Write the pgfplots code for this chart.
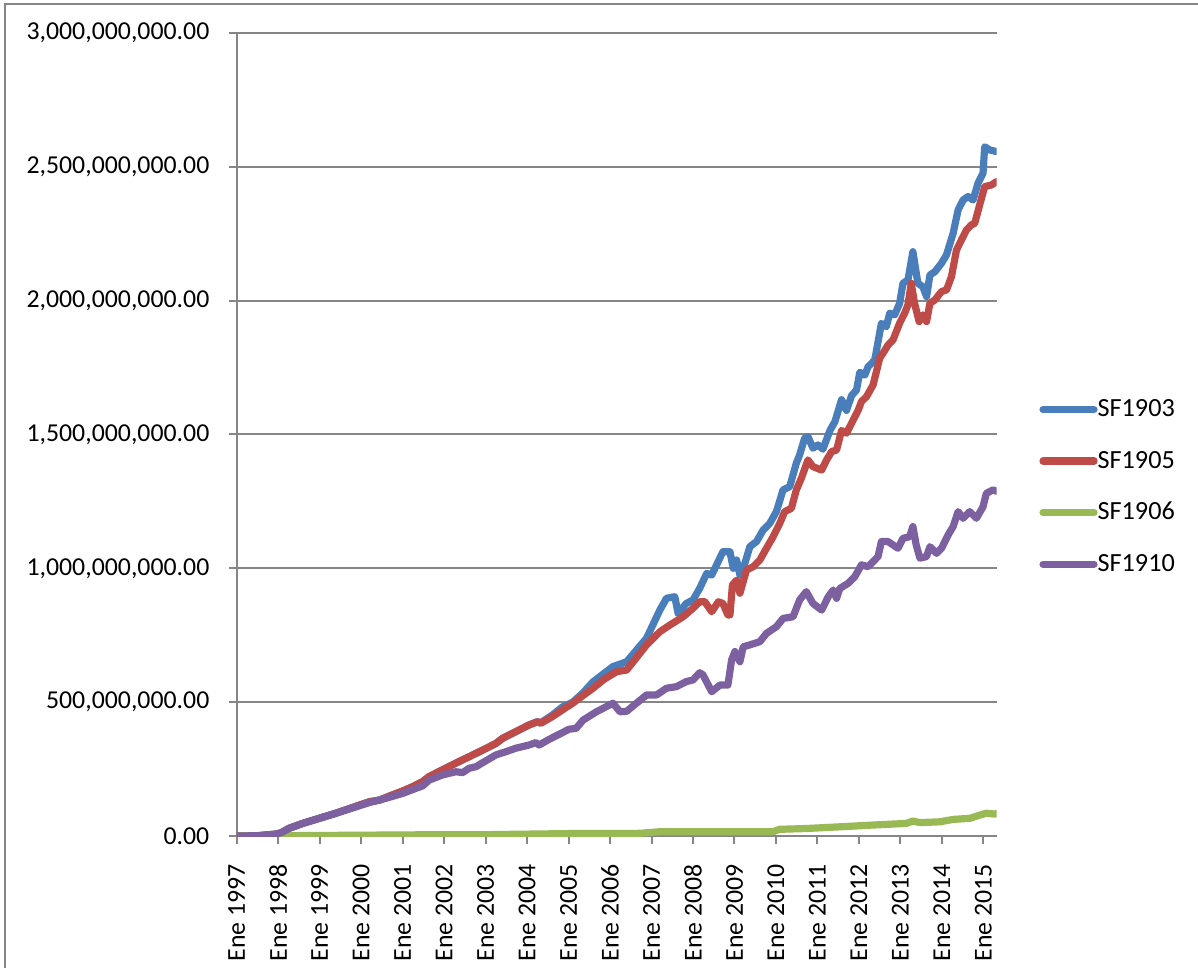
\documentclass[border=0pt]{standalone}
\usepackage{fontspec}
\setmainfont{Carlito}
\usepackage{pgfplots}
\pgfplotsset{compat=1.18}

\definecolor{sfblue}{HTML}{4A7EBB}
\definecolor{sfred}{HTML}{BE4B48}
\definecolor{sfgreen}{HTML}{98B954}
\definecolor{sfpurple}{HTML}{7D60A0}
\definecolor{axgray}{HTML}{868686}

\begin{document}
\begin{tikzpicture}
% page: 1198 x 968 units of 0.5pt, axis box lower-left at the origin
\useasboundingbox (-118.35pt,-66pt) rectangle (480.65pt,418pt);
\draw[axgray, line width=1pt] (-115.85pt,-66pt) -- (-115.85pt,416pt) -- (480.65pt,416pt);
\begin{axis}[
  at={(0pt,0pt)}, anchor=south west,
  scale only axis,
  width=380pt, height=401.5pt,
  xmin=1997, xmax=2015.32,
  ymin=0, ymax=3000,
  axis x line*=bottom, axis y line*=left,
  axis line style={axgray, line width=1pt, -},
  tick style={axgray, line width=1pt},
  tick align=outside,
  major tick length=4pt,
  xtick={1997,...,2015},
  xticklabels={Ene 1997,Ene 1998,Ene 1999,Ene 2000,Ene 2001,Ene 2002,Ene 2003,Ene 2004,Ene 2005,Ene 2006,Ene 2007,Ene 2008,Ene 2009,Ene 2010,Ene 2011,Ene 2012,Ene 2013,Ene 2014,Ene 2015},
  ytick={0,500,...,3000},
  yticklabels={{0.00},{500,000,000.00},{1,000,000,000.00},{1,500,000,000.00},{2,000,000,000.00},{2,500,000,000.00},{3,000,000,000.00}},
  ymajorgrids,
  major grid style={axgray, line width=1pt},
  minor tick num=0,
  xticklabel shift=10pt,
  xticklabel style={rotate=90, anchor=east, font=\fontsize{12.9}{15}\selectfont, inner sep=0pt},
  yticklabel style={anchor=east, font=\fontsize{12.9}{15}\selectfont, inner sep=0pt, xshift=-9.5pt},
  /pgf/number format/assume math mode=true,
  every axis plot/.append style={line width=3.6pt, line join=round, line cap=round, no markers},
  legend style={at={(1.0557,0.4346)}, anchor=west, draw=none, fill=none,
    inner sep=0pt, row sep=15.6pt,
    font=\fontsize{13.1}{15}\selectfont,
    nodes={inner sep=0pt}},
  legend image code/.code={\draw[#1, line width=3.6pt, line cap=round] (0pt,0pt) -- (25.5pt,0pt);},
  clip=true,
]
% SF1903
\addplot[sfblue] coordinates {
(1997.0,0) (1997.5,1) (1997.95,7) (1998.07,12) (1998.27,29) (1998.59,47)
(1998.99,66) (1999.39,85) (1999.80,107) (2000.20,128) (2000.44,134) (2000.68,149)
(2001.00,168) (2001.24,184) (2001.48,203) (2001.64,222) (2001.96,247) (2002.28,272)
(2002.60,296) (2002.93,321) (2003.25,346) (2003.41,365) (2003.73,390) (2004.05,415)
(2004.25,427) (2004.33,423) (2004.61,452) (2004.85,482) (2005.10,500) (2005.35,535)
(2005.59,576) (2006.07,633) (2006.40,651) (2006.88,739) (2007.20,844) (2007.36,888)
(2007.56,894) (2007.64,832) (2007.84,869) (2008.00,882) (2008.16,925) (2008.33,981)
(2008.45,975) (2008.72,1062) (2008.89,1062) (2008.97,1000) (2009.05,1031) (2009.13,975)
(2009.25,1019) (2009.37,1081) (2009.53,1100) (2009.69,1143) (2009.85,1168) (2010.01,1212)
(2010.17,1293) (2010.33,1305) (2010.49,1393) (2010.57,1424) (2010.69,1486) (2010.77,1492)
(2010.89,1449) (2011.01,1461) (2011.13,1445) (2011.30,1515) (2011.42,1548) (2011.58,1630)
(2011.70,1590) (2011.82,1645) (2011.94,1666) (2012.02,1732) (2012.14,1722) (2012.22,1753)
(2012.38,1778) (2012.54,1915) (2012.66,1903) (2012.74,1953) (2012.86,1947) (2012.98,1990)
(2013.06,2065) (2013.18,2077) (2013.30,2183) (2013.42,2065) (2013.54,2052) (2013.63,2015)
(2013.71,2096) (2013.83,2108) (2013.99,2140) (2014.11,2171) (2014.27,2252) (2014.39,2339)
(2014.51,2376) (2014.63,2389) (2014.75,2376) (2014.87,2439) (2014.99,2476) (2015.03,2575)
(2015.15,2563) (2015.32,2557)
};
\addlegendentry{SF1903}
% SF1905
\addplot[sfred] coordinates {
(1997.0,0) (1997.5,1) (1997.95,7) (1998.07,12) (1998.27,29) (1998.59,47)
(1998.99,66) (1999.39,85) (1999.80,107) (2000.20,128) (2000.44,134) (2000.68,149)
(2001.00,168) (2001.24,184) (2001.48,203) (2001.64,222) (2001.96,247) (2002.28,272)
(2002.60,296) (2002.93,321) (2003.25,346) (2003.41,365) (2003.73,390) (2004.05,415)
(2004.25,427) (2004.33,421) (2004.61,446) (2004.85,471) (2005.10,496) (2005.35,525)
(2005.59,552) (2005.85,585) (2006.16,614) (2006.40,620) (2006.88,714) (2007.20,763)
(2007.44,788) (2007.76,819) (2008.00,851) (2008.16,875) (2008.28,876) (2008.45,838)
(2008.61,875) (2008.72,869) (2008.84,826) (2008.89,826) (2008.95,938) (2009.05,956)
(2009.13,907) (2009.29,994) (2009.45,1006) (2009.61,1031) (2009.77,1075) (2009.93,1118)
(2010.09,1168) (2010.21,1212) (2010.37,1224) (2010.49,1293) (2010.61,1336) (2010.77,1405)
(2010.89,1380) (2011.10,1367) (2011.22,1405) (2011.34,1436) (2011.46,1442) (2011.58,1515)
(2011.70,1505) (2011.86,1554) (2011.98,1590) (2012.06,1623) (2012.18,1641) (2012.34,1685)
(2012.50,1785) (2012.58,1804) (2012.70,1834) (2012.82,1853) (2012.98,1916) (2013.10,1953)
(2013.18,1984) (2013.26,2065) (2013.34,1990) (2013.45,1922) (2013.54,1947) (2013.63,1922)
(2013.71,1990) (2013.83,2003) (2013.99,2034) (2014.11,2040) (2014.23,2090) (2014.35,2189)
(2014.47,2227) (2014.59,2264) (2014.71,2283) (2014.79,2289) (2014.91,2358) (2015.03,2426)
(2015.19,2432) (2015.32,2445)
};
\addlegendentry{SF1905}
% SF1906
\addplot[sfgreen] coordinates {
(1997.0,0) (1998.0,1) (1999.0,2) (2000.0,3) (2001.0,4) (2002.0,5) (2003.0,5)
(2004.0,7) (2005.0,9) (2006.0,9) (2006.72,10) (2007.2,16) (2008.33,16) (2009.93,16)
(2010.09,25) (2010.73,28) (2011.5,34) (2012.34,41) (2013.14,47) (2013.30,56)
(2013.47,50) (2013.95,53) (2014.27,62) (2014.67,66) (2014.91,78) (2015.07,85)
(2015.27,82) (2015.32,84)
};
\addlegendentry{SF1906}
% SF1910
\addplot[sfpurple] coordinates {
(1997.0,0) (1997.5,1) (1997.95,7) (1998.07,12) (1998.27,29) (1998.59,47)
(1998.99,66) (1999.39,85) (1999.80,105) (2000.20,125) (2000.60,141) (2001.00,159)
(2001.32,178) (2001.48,187) (2001.64,209) (2001.96,228) (2002.28,240) (2002.45,237)
(2002.60,253) (2002.77,259) (2002.93,274) (2003.25,303) (2003.49,315) (2003.73,328)
(2004.05,340) (2004.21,349) (2004.29,340) (2004.53,361) (2004.85,386) (2005.01,399)
(2005.18,402) (2005.35,433) (2005.67,464) (2006.07,496) (2006.24,464) (2006.40,466)
(2006.88,527) (2007.12,527) (2007.36,552) (2007.60,558) (2007.84,577) (2008.00,583)
(2008.16,610) (2008.24,602) (2008.45,539) (2008.65,564) (2008.84,564) (2008.93,658)
(2009.01,689) (2009.13,651) (2009.21,707) (2009.37,714) (2009.61,726) (2009.77,757)
(2010.01,782) (2010.17,813) (2010.41,819) (2010.57,882) (2010.73,913) (2010.89,869)
(2011.10,844) (2011.26,894) (2011.38,919) (2011.46,888) (2011.54,925) (2011.74,944)
(2011.90,969) (2012.06,1013) (2012.22,1006) (2012.34,1025) (2012.46,1044) (2012.54,1100)
(2012.70,1100) (2012.94,1075) (2013.06,1112) (2013.22,1118) (2013.30,1156) (2013.38,1087)
(2013.47,1038) (2013.63,1044) (2013.71,1081) (2013.87,1056) (2013.99,1075) (2014.15,1125)
(2014.27,1156) (2014.39,1212) (2014.51,1187) (2014.67,1212) (2014.83,1187) (2014.99,1230)
(2015.07,1280) (2015.23,1293) (2015.32,1288)
};
\addlegendentry{SF1910}
\end{axis}
\end{tikzpicture}
\end{document}
